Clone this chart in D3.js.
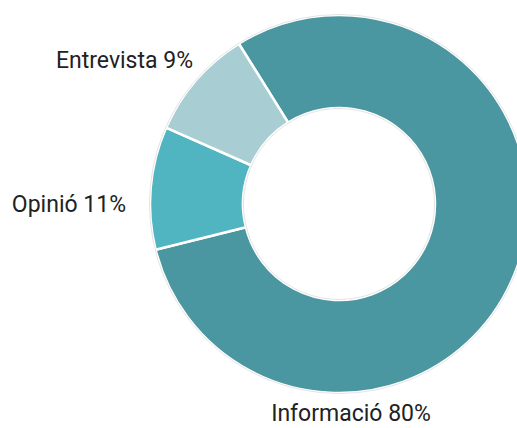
<!DOCTYPE html>
<html>
<head>
<meta charset="utf-8">
<script src="https://cdn.jsdelivr.net/npm/d3@7"></script>
<style>
  body { margin: 0; background: #fff; }
  svg { display: block; }
  .lbl { font-family: Roboto, "Liberation Sans", sans-serif; font-size: 23px; fill: #222; }
</style>
</head>
<body>
<script>
var categories = ["Informació", "Opinió", "Entrevista"];
// slice shares as measured on the ring; printed labels are the rounded ones
var shares = [80, 10.5, 9.5];
var pctLabels = ["80%", "11%", "9%"];
var colors = ["#4a96a1", "#50b4c1", "#a8ced3"];

var width = 517, height = 428;
var cx = 339, cy = 204;
var outerR = 189, innerR = 96;

var svg = d3.select("body").append("svg")
  .attr("width", width)
  .attr("height", height);

var g = svg.append("g")
  .attr("transform", "translate(" + cx + "," + cy + ")");

var start = -32 * Math.PI / 180;
var pie = d3.pie().sort(null).startAngle(start).endAngle(start + 2 * Math.PI);
var arcs = pie(shares);

var arc = d3.arc().innerRadius(innerR).outerRadius(outerR);

g.selectAll("path.slice")
  .data(arcs)
  .enter().append("path")
  .attr("class", "slice")
  .attr("d", arc)
  .attr("fill", function(d, i) { return colors[i]; })
  .attr("stroke", "#fff")
  .attr("stroke-width", 2.5);

// faint edge round the ring
g.append("circle").attr("r", outerR + 0.5)
  .attr("fill", "none").attr("stroke", "#e4e4e4").attr("stroke-width", 1);
g.append("circle").attr("r", innerR - 0.5)
  .attr("fill", "none").attr("stroke", "#e4e4e4").attr("stroke-width", 1);

// label placement, one per slice
var place = [
  { x: 12, y: outerR + 28, anchor: "middle" },
  { x: -outerR - 24, y: 8, anchor: "end" },
  { x: -146, y: -136, anchor: "end" }
];

g.selectAll("text.lbl")
  .data(arcs)
  .enter().append("text")
  .attr("class", "lbl")
  .attr("x", function(d, i) { return place[i].x; })
  .attr("y", function(d, i) { return place[i].y; })
  .attr("text-anchor", function(d, i) { return place[i].anchor; })
  .text(function(d, i) { return categories[i] + " " + pctLabels[i]; });
</script>
</body>
</html>
